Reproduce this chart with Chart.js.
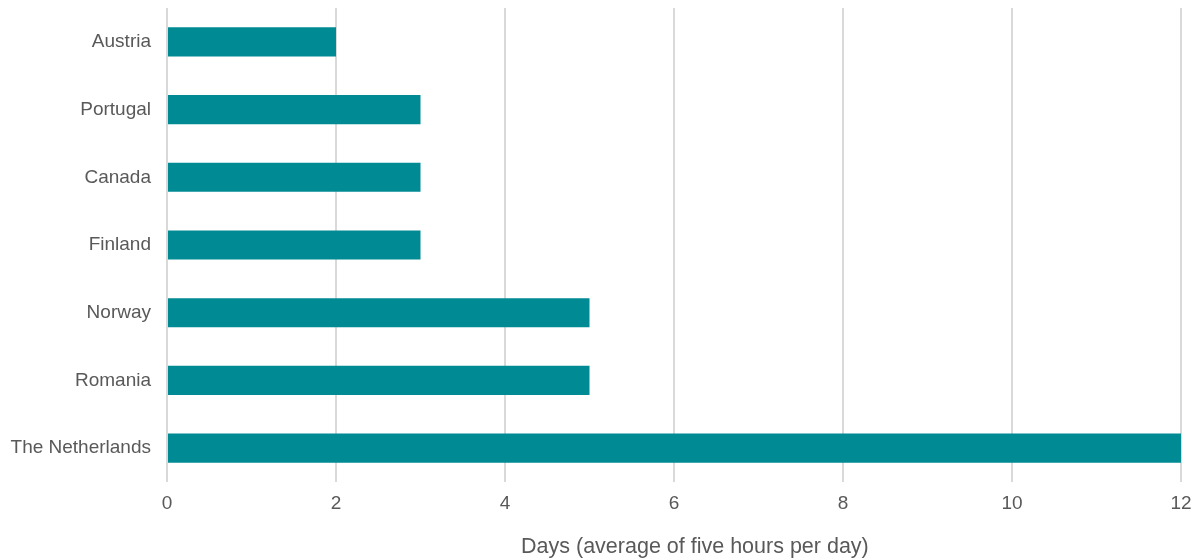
<!DOCTYPE html>
<html lang="en">
<head>
  <meta charset="UTF-8">
  <title>Days (average of five hours per day)</title>
  <script src="https://cdn.jsdelivr.net/npm/chart.js"></script>
  <style>
    html, body {
      margin: 0;
      padding: 0;
      background: #ffffff;
      overflow: hidden;
    }
    #wrap {
      width: 1198px;
      height: 560px;
    }
    canvas {
      display: block;
    }
  </style>
</head>
<body>
  <div id="wrap"><canvas id="myChart"></canvas></div>

  <script>
    const countries = ['Austria', 'Portugal', 'Canada', 'Finland', 'Norway', 'Romania', 'The Netherlands'];
    const days = [2, 3, 3, 3, 5, 5, 12];
    const xTicks = [0, 2, 4, 6, 8, 10, 12];
    const xTitle = 'Days (average of five hours per day)';

    const textColor = '#595959';
    const fontFamily = "'Liberation Sans', Arial, sans-serif";

    new Chart(document.getElementById('myChart'), {
      type: 'bar',
      data: {
        labels: countries,
        datasets: [{
          data: days,
          backgroundColor: '#008A94',
          borderWidth: 0,
          categoryPercentage: 1,
          barPercentage: 0.43
        }]
      },
      options: {
        indexAxis: 'y',
        responsive: true,
        maintainAspectRatio: false,
        animation: false,
        layout: { padding: { top: 8, right: 17, left: 0, bottom: 0 } },
        plugins: {
          legend: { display: false },
          tooltip: { enabled: false }
        },
        scales: {
          x: {
            min: 0,
            max: 12,
            afterBuildTicks: (axis) => { axis.ticks = xTicks.map(v => ({ value: v })); },
            afterFit: (axis) => {
              axis.height = 78;
              axis.paddingLeft = 0;
              axis.paddingRight = 0;
            },
            grid: { color: '#d9d9d9', lineWidth: 2, drawTicks: false },
            border: { display: false },
            ticks: { color: textColor, font: { family: fontFamily, size: 19 }, padding: 10 },
            title: {
              display: true,
              // title sits a little right of the plot centre in the original
              text: '\u00A0\u00A0\u00A0\u00A0\u00A0\u00A0\u00A0' + xTitle,
              color: textColor,
              font: { family: fontFamily, size: 21.5 },
              padding: { top: 0, bottom: 0 }
            }
          },
          y: {
            afterFit: (axis) => {
              axis.width = 167;
              axis.paddingTop = 0;
              axis.paddingBottom = 0;
            },
            grid: { display: false, drawTicks: false },
            border: { display: false },
            ticks: { color: textColor, font: { family: fontFamily, size: 19 }, padding: 16 }
          }
        }
      }
    });
  </script>
</body>
</html>
